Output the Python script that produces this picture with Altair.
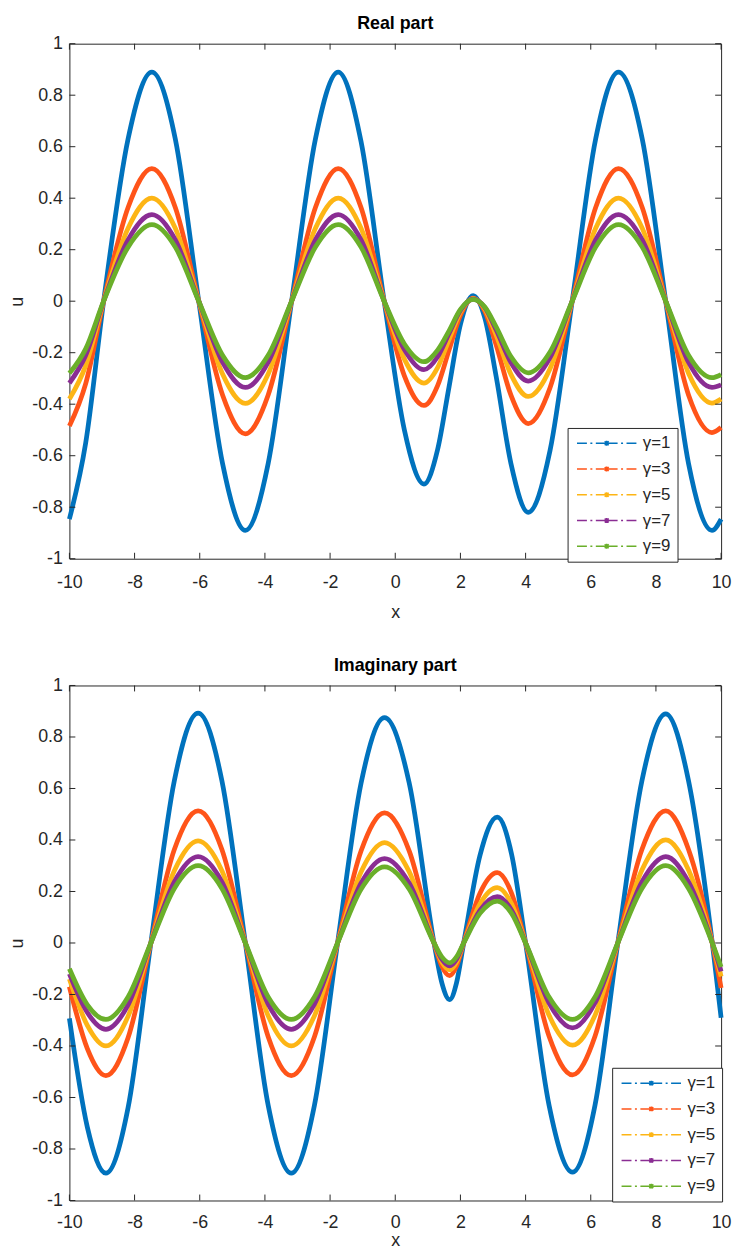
import altair as alt
import pandas as pd

# ---------------- data ----------------
gammas = ["γ=1", "γ=3", "γ=5", "γ=7", "γ=9"]
colors = ["#0072BD", "#FF5419", "#FDB515", "#8A2D93", "#6AAF2A"]

x_ticks = [-10, -8, -6, -4, -2, 0, 2, 4, 6, 8, 10]
u_ticks = [-1, -0.8, -0.6, -0.4, -0.2, 0, 0.2, 0.4, 0.6, 0.8, 1]

# Real part
x_real = [-10, -9.5, -8.95, -8.2, -7.47, -6.75, -6.03, -5.3, -4.6, -3.9, -3.18,
          -2.45, -1.75, -1.05, -0.34, 0.28, 0.88, 1.3, 1.65, 2.0, 2.39, 2.75,
          3.1, 3.55, 4.08, 4.75, 5.43, 6.15, 6.85, 7.58, 8.3, 9.0, 9.72, 10]
real_g1 = [-0.846, -0.55, 0, 0.63, 0.89, 0.63, 0, -0.63, -0.89, -0.63, 0,
           0.63, 0.89, 0.62, 0, -0.5, -0.71, -0.576, -0.333, -0.09, 0.022, -0.066,
           -0.295, -0.63, -0.82, -0.58, 0, 0.63, 0.89, 0.63, 0, -0.63, -0.89, -0.846]
real_g3 = [-0.485, -0.32, 0, 0.364, 0.515, 0.364, 0, -0.364, -0.515, -0.364, 0,
           0.364, 0.515, 0.364, 0, -0.29, -0.405, -0.328, -0.19, -0.055, 0.012, -0.039,
           -0.171, -0.365, -0.475, -0.336, 0, 0.364, 0.515, 0.364, 0, -0.364, -0.51, -0.49]
real_g5 = [-0.38, -0.25, 0, 0.283, 0.4, 0.283, 0, -0.283, -0.397, -0.283, 0,
           0.283, 0.4, 0.283, 0, -0.225, -0.318, -0.258, -0.149, -0.042, 0.01, -0.03,
           -0.133, -0.284, -0.37, -0.262, 0, 0.283, 0.4, 0.283, 0, -0.28, -0.396, -0.38]
real_g7 = [-0.318, -0.21, 0, 0.238, 0.336, 0.238, 0, -0.237, -0.335, -0.237, 0,
           0.238, 0.336, 0.238, 0, -0.188, -0.266, -0.216, -0.125, -0.036, 0.008, -0.025,
           -0.112, -0.238, -0.31, -0.219, 0, 0.238, 0.336, 0.238, 0, -0.237, -0.335, -0.325]
real_g9 = [-0.28, -0.185, 0, 0.21, 0.297, 0.21, 0, -0.21, -0.297, -0.21, 0,
           0.21, 0.297, 0.21, 0, -0.166, -0.235, -0.19, -0.115, -0.032, 0.007, -0.023,
           -0.101, -0.215, -0.278, -0.197, 0, 0.21, 0.297, 0.21, 0, -0.21, -0.297, -0.285]

# Imaginary part
x_imag = [-10, -9.45, -8.88, -8.2, -7.5, -6.78, -6.05, -5.32, -4.6, -3.9, -3.19,
          -2.48, -1.77, -1.05, -0.33, 0.43, 1.19, 1.43, 1.67, 1.88, 2.1, 2.6,
          3.13, 3.57, 4.0, 4.72, 5.44, 6.13, 6.83, 7.57, 8.3, 9.0, 9.73, 10]
imag_g1 = [-0.293, -0.715, -0.894, -0.64, 0, 0.63, 0.893, 0.63, 0, -0.63, -0.894,
           -0.63, 0, 0.62, 0.875, 0.62, 0, -0.155, -0.22, -0.155, 0, 0.34,
           0.489, 0.345, 0, -0.63, -0.89, -0.63, 0, 0.63, 0.89, 0.63, 0, -0.29]
imag_g3 = [-0.17, -0.41, -0.515, -0.368, 0, 0.363, 0.513, 0.363, 0, -0.364, -0.515,
           -0.364, 0, 0.357, 0.505, 0.357, 0, -0.09, -0.127, -0.09, 0, 0.193,
           0.273, 0.193, 0, -0.362, -0.512, -0.362, 0, 0.363, 0.513, 0.363, 0, -0.175]
imag_g5 = [-0.14, -0.32, -0.4, -0.285, 0, 0.281, 0.397, 0.281, 0, -0.283, -0.4,
           -0.283, 0, 0.276, 0.39, 0.276, 0, -0.074, -0.104, -0.074, 0, 0.152,
           0.215, 0.152, 0, -0.281, -0.397, -0.281, 0, 0.283, 0.4, 0.283, 0, -0.13]
imag_g7 = [-0.12, -0.27, -0.335, -0.24, 0, 0.237, 0.335, 0.237, 0, -0.237, -0.335,
           -0.237, 0, 0.232, 0.328, 0.232, 0, -0.063, -0.089, -0.063, 0, 0.127,
           0.18, 0.127, 0, -0.233, -0.33, -0.233, 0, 0.237, 0.335, 0.237, 0, -0.11]
imag_g9 = [-0.1, -0.24, -0.297, -0.21, 0, 0.212, 0.3, 0.212, 0, -0.21, -0.297,
           -0.21, 0, 0.209, 0.296, 0.209, 0, -0.054, -0.077, -0.054, 0, 0.115,
           0.163, 0.115, 0, -0.21, -0.297, -0.21, 0, 0.212, 0.3, 0.212, 0, -0.093]

real_series = [real_g1, real_g3, real_g5, real_g7, real_g9]
imag_series = [imag_g1, imag_g3, imag_g5, imag_g7, imag_g9]

# ---------------- helpers ----------------
W, H = 658, 520
FONT = "Liberation Sans"
AX = "#262626"
LABEL_EXPR = ("datum.value < 0 ? '-' + format(-datum.value, '.1~f') "
              ": format(datum.value, '.1~f')")
# dash-dot legend line (60 px) with a small star marker in the middle
LEGEND_SYMBOL = ("M-6,0H-4M-3.3,0H-2.9M-2.2,0H2.2M2.9,0H3.3M4,0H6"
                 "M-0.4,-0.4L0.4,0.4M-0.4,0.4L0.4,-0.4M0,-0.5V0.5")


def long_df(xs, series):
    rows = []
    for g, vals in zip(gammas, series):
        for xv, uv in zip(xs, vals):
            rows.append({"x": xv, "u": uv, "gamma": g})
    return pd.DataFrame(rows)


xt_df = pd.DataFrame({"x": x_ticks})
ut_df = pd.DataFrame({"u": u_ticks})


def panel(df, title, lx, ly, x_label_pad, x_title_pad):
    xenc = alt.X("x:Q", scale=alt.Scale(domain=[-10, 10], nice=False, zero=False),
                 axis=alt.Axis(values=x_ticks, title="x", labelExpr=LABEL_EXPR,
                               labelPadding=x_label_pad, titlePadding=x_title_pad,
                               labelFlush=False))
    yenc = alt.Y("u:Q", scale=alt.Scale(domain=[-1, 1], nice=False, zero=False),
                 axis=alt.Axis(values=u_ticks, title="u", labelExpr=LABEL_EXPR,
                               labelFlush=False))
    lines = alt.Chart(df).mark_line(strokeWidth=4.8, interpolate="monotone").encode(
        x=xenc,
        y=yenc,
        color=alt.Color("gamma:N", scale=alt.Scale(domain=gammas, range=colors),
                        legend=alt.Legend(orient="none", legendX=lx, legendY=ly,
                                          title=None)),
        detail="gamma:N",
    )
    tb = alt.Chart(xt_df).mark_rule(color=AX, strokeWidth=1).encode(
        x="x:Q", y=alt.value(H), y2=alt.value(H - 6))
    tt = alt.Chart(xt_df).mark_rule(color=AX, strokeWidth=1).encode(
        x="x:Q", y=alt.value(0), y2=alt.value(6))
    tl = alt.Chart(ut_df).mark_rule(color=AX, strokeWidth=1).encode(
        y="u:Q", x=alt.value(0), x2=alt.value(6))
    tr = alt.Chart(ut_df).mark_rule(color=AX, strokeWidth=1).encode(
        y="u:Q", x=alt.value(W), x2=alt.value(W - 6))
    return alt.layer(lines, tb, tt, tl, tr).properties(
        width=W, height=H,
        title=alt.TitleParams(title, fontSize=18, fontWeight="bold", font=FONT,
                              color="#000000", offset=2, anchor="middle"),
    )


top = panel(long_df(x_real, real_series), "Real part", 503, 388, 15, 12)
bottom = panel(long_df(x_imag, imag_series), "Imaginary part", 548, 386, 13, 0)

chart = alt.vconcat(top, bottom, spacing=34).resolve_scale(
    color="independent").resolve_legend(color="independent").properties(
    padding=0
).configure_view(
    stroke=AX, strokeWidth=1
).configure_axis(
    domain=False, ticks=False, tickSize=0, grid=False,
    labelFont=FONT, labelFontSize=18, labelColor=AX,
    titleFont=FONT, titleFontSize=18, titleFontWeight="normal", titleColor=AX,
).configure_axisY(
    labelPadding=7, titlePadding=5,
).configure_legend(
    fillColor="white", strokeColor=AX, strokeWidth=1, padding=7, cornerRadius=0,
    symbolType=LEGEND_SYMBOL, symbolStrokeWidth=1.5, symbolSize=100,
    symbolOffset=24, labelFont=FONT, labelFontSize=17, labelColor=AX,
    labelOffset=28, rowPadding=8,
)

chart.save("out.html", embed_options={"renderer": "svg", "actions": False})
